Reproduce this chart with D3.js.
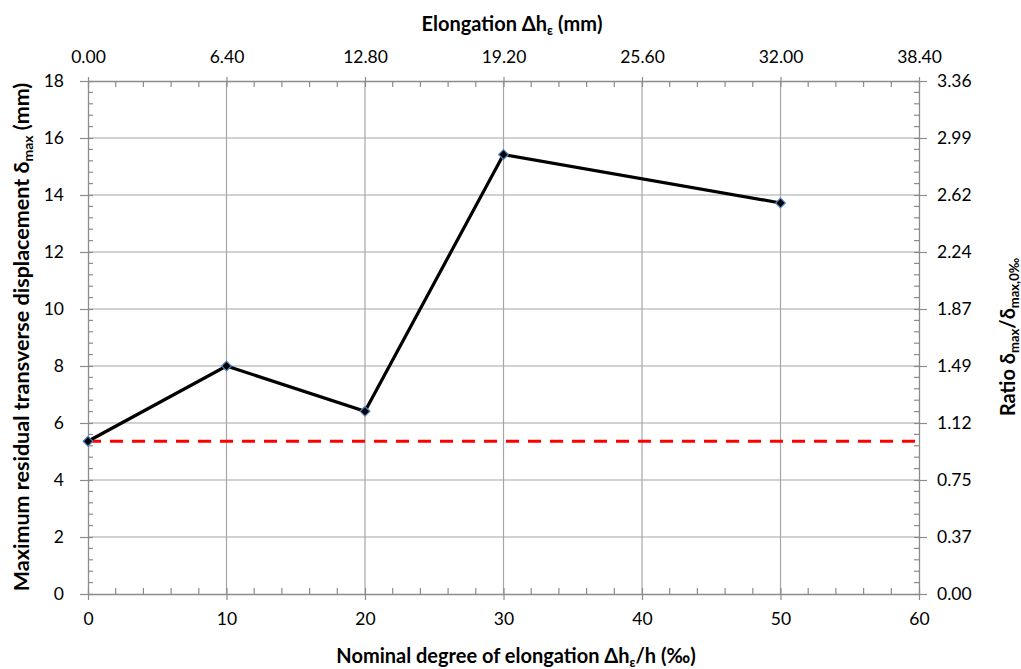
<!DOCTYPE html>
<html><head><meta charset="utf-8">
<script src="https://cdn.jsdelivr.net/npm/d3@7/dist/d3.min.js"></script>
<style>
body{margin:0;background:#fff;}
text{font-family:Lato,"Open Sans",sans-serif;}
</style></head>
<body><svg id="c" width="1021" height="669"></svg>
<script>
const xValues = [0, 10, 20, 30, 50];
const yValues = [5.36, 8.0, 6.41, 15.42, 13.72];
const baseline = 5.36;
const xTicks = [0, 10, 20, 30, 40, 50, 60];
const yTicks = [0, 2, 4, 6, 8, 10, 12, 14, 16, 18];
const topTickLabels = ["0.00", "6.40", "12.80", "19.20", "25.60", "32.00", "38.40"];
const rightTickLabels = ["0.00", "0.37", "0.75", "1.12", "1.49", "1.87", "2.24", "2.62", "2.99", "3.36"];

const svg = d3.select("#c");
const L = 88, R = 919, T = 81, B = 594;
const x = d3.scaleLinear().domain([0, 60]).range([L, R]);
const y = d3.scaleLinear().domain([0, 18]).range([B, T]);
const axisCol = "#8c8c8c", gridCol = "#a6a6a6";
const tickFont = "17.5px";

// gridlines
svg.append("g").selectAll("line").data(xTicks.slice(1, -1)).join("line")
  .attr("x1", d => x(d)).attr("x2", d => x(d)).attr("y1", T).attr("y2", B)
  .attr("stroke", gridCol).attr("stroke-width", 1.2);
svg.append("g").selectAll("line").data(yTicks.slice(1, -1)).join("line")
  .attr("y1", d => y(d)).attr("y2", d => y(d)).attr("x1", L).attr("x2", R)
  .attr("stroke", gridCol).attr("stroke-width", 1.2);

const minorX = d3.range(0, 60.01, 2).filter(v => v % 10 !== 0);
const minorY = d3.range(0, 18.01, 0.4).filter(v => Math.abs(v / 2 - Math.round(v / 2)) > 1e-6);

function styleAxis(g) {
  g.selectAll(".domain").attr("stroke", axisCol).attr("stroke-width", 1.3);
  g.selectAll(".tick line").attr("stroke", axisCol).attr("stroke-width", 1.2);
  g.selectAll(".tick text").attr("fill", "#000").style("font-size", tickFont)
    .style("font-family", "Lato,'Open Sans',sans-serif");
}

// bottom axis
const gb = svg.append("g").attr("transform", `translate(0,${B})`)
  .call(d3.axisBottom(x).tickValues(xTicks).tickSizeInner(6).tickSizeOuter(0).tickPadding(13).tickFormat(d3.format("d")));
gb.selectAll(".tick line").attr("y1", -6).attr("y2", 6);
styleAxis(gb);
svg.append("g").selectAll("line").data(minorX).join("line")
  .attr("x1", d => x(d)).attr("x2", d => x(d)).attr("y1", B).attr("y2", B - 6)
  .attr("stroke", axisCol).attr("stroke-width", 1.2);

// top axis
const gt = svg.append("g").attr("transform", `translate(0,${T})`)
  .call(d3.axisTop(x).tickValues(xTicks).tickSizeInner(6).tickSizeOuter(0).tickPadding(12).tickFormat((d, i) => topTickLabels[i]));
gt.selectAll(".tick line").attr("y1", -4).attr("y2", 6);
styleAxis(gt);
svg.append("g").selectAll("line").data(minorX).join("line")
  .attr("x1", d => x(d)).attr("x2", d => x(d)).attr("y1", T).attr("y2", T + 6)
  .attr("stroke", axisCol).attr("stroke-width", 1.2);

// left axis
const gl = svg.append("g").attr("transform", `translate(${L},0)`)
  .call(d3.axisLeft(y).tickValues(yTicks).tickSizeInner(6).tickSizeOuter(0).tickPadding(18).tickFormat(d3.format("d")));
gl.selectAll(".tick line").attr("x1", -8).attr("x2", 5);
styleAxis(gl);
svg.append("g").selectAll("line").data(minorY).join("line")
  .attr("y1", d => y(d)).attr("y2", d => y(d)).attr("x1", L).attr("x2", L + 5)
  .attr("stroke", axisCol).attr("stroke-width", 1.2);

// right axis
const gr = svg.append("g").attr("transform", `translate(${R},0)`)
  .call(d3.axisRight(y).tickValues(yTicks).tickSizeInner(6).tickSizeOuter(0).tickPadding(12).tickFormat((d, i) => rightTickLabels[i]));
gr.selectAll(".tick line").attr("x1", -5).attr("x2", 8);
styleAxis(gr);
svg.append("g").selectAll("line").data(minorY).join("line")
  .attr("y1", d => y(d)).attr("y2", d => y(d)).attr("x1", R).attr("x2", R - 5)
  .attr("stroke", axisCol).attr("stroke-width", 1.2);

// baseline dashed
svg.append("line").attr("x1", x(0)).attr("x2", x(60)).attr("y1", y(baseline)).attr("y2", y(baseline))
  .attr("stroke", "#ff0000").attr("stroke-width", 3.2).attr("stroke-dasharray", "13,9");

// series line
const pts = xValues.map((v, i) => [v, yValues[i]]);
svg.append("path").datum(pts)
  .attr("d", d3.line().x(d => x(d[0])).y(d => y(d[1])))
  .attr("fill", "none").attr("stroke", "#000").attr("stroke-width", 3.2);

svg.append("g").selectAll("path").data(pts).join("path")
  .attr("d", d3.symbol().type(d3.symbolDiamond2).size(60))
  .attr("transform", d => `translate(${x(d[0])},${y(d[1])})`)
  .attr("fill", "#000").attr("stroke", "#4f81bd").attr("stroke-width", 1.2);

// titles
const tf = "font-size:20px;font-weight:bold;";
svg.append("text").attr("x", 512).attr("y", 31).attr("text-anchor", "middle").attr("style", tf)
  .html('Elongation Δh<tspan font-size="13" dy="4">ε</tspan><tspan dy="-4"> (mm)</tspan>');
svg.append("text").attr("x", 516).attr("y", 663).attr("text-anchor", "middle").attr("style", tf)
  .html('Nominal degree of elongation Δh<tspan font-size="13" dy="4">ε</tspan><tspan dy="-4">/h (‰)</tspan>');
svg.append("text").attr("transform", "translate(29,337) rotate(-90)").attr("text-anchor", "middle").attr("style", "font-size:21.5px;font-weight:bold;")
  .html('Maximum residual transverse displacement δ<tspan font-size="14" dy="4">max</tspan><tspan dy="-4"> (mm)</tspan>');
svg.append("text").attr("transform", "translate(1015,337) rotate(-90)").attr("text-anchor", "middle").attr("style", tf)
  .html('Ratio δ<tspan font-size="13" dy="4">max</tspan><tspan dy="-4">/δ</tspan><tspan font-size="13" dy="4">max,0‰</tspan>');
</script></body></html>
